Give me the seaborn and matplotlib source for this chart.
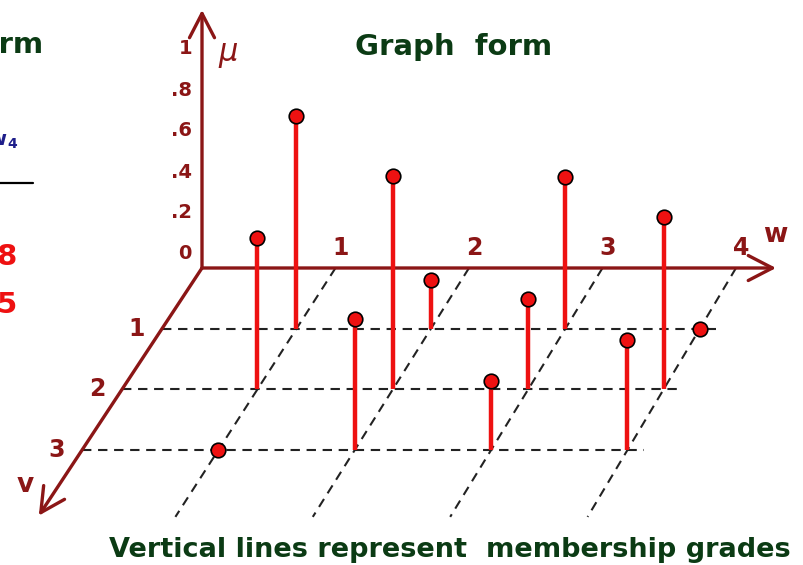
import numpy as np
import pandas as pd
import matplotlib
matplotlib.use("Agg")
import matplotlib.pyplot as plt
import seaborn as sns

# ---- data ----
w_labels = ["1", "2", "3", "4"]
v_labels = ["1", "2", "3"]
mu_ticks = [0.0, 0.2, 0.4, 0.6, 0.8, 1.0]
mu_tick_labels = ["0", ".2", ".4", ".6", ".8", "1"]
grades_v1 = [1.0, 0.2, 0.7, 0.0]
grades_v2 = [0.7, 1.0, 0.4, 0.8]
grades_v3 = [0.0, 0.6, 0.3, 0.5]
title = "Graph  form"
footer = "Vertical lines represent  membership grades"

sns.set_theme(style="white")
plt.rcParams["font.family"] = ["DejaVu Sans"]

MAROON = "#8B1616"
RED = "#EE1111"
GREEN = "#0B3B14"
BLUE = "#1E1E8A"

# oblique projection (pixel space of the figure)
OX, OY = 202.0, 268.0
WU = 133.5            # px per w unit
VX, VY = -40.0, 60.7  # px per v unit
VK = 0.95             # slight drift of the slant with w
MU = 205.0            # px per membership unit
LIFT = 8.0            # stems start slightly raised above the plane


def proj(w, v, mu=0.0):
    w = np.asarray(w, float)
    v = np.asarray(v, float)
    mu = np.asarray(mu, float)
    x = OX + WU * w + (VX + VK * w) * v
    y = OY + VY * v - np.where(mu > 0, LIFT + MU * mu, 0.0)
    return x, y


rows = [grades_v1, grades_v2, grades_v3]
records = []
for vi, row in enumerate(rows, start=1):
    for wi, g in enumerate(row, start=1):
        records.append({"w": wi, "v": vi, "mu": g})
df = pd.DataFrame(records)
df["bx"], df["by"] = proj(df["w"], df["v"])
df["tx"], df["ty"] = proj(df["w"], df["v"], df["mu"])

fig = plt.figure(figsize=(8.04, 5.65), dpi=100)
ax = fig.add_axes([0, 0, 1, 1])

# grid: slanted dashed lines for each w
for i, lab in enumerate(w_labels, start=1):
    x, y = proj([i, i], [0, 4.1])
    ax.plot(x, y, color="#222222", lw=1.5, ls=(0, (4.5, 3.2)), zorder=1)
# horizontal dashed lines for each v
for j, lab in enumerate(v_labels, start=1):
    x, y = proj([0, 4.12], [j, j])
    ax.plot(x, y, color="#222222", lw=1.5, ls=(0, (4.5, 3.2)), zorder=1)

# axes with arrows
arrow_kw = dict(arrowstyle="->,head_length=1.45,head_width=0.75", color=MAROON,
                lw=2.4, shrinkA=0, shrinkB=0)
x0, y0 = proj(0, 0)
tx, ty = proj(0, 0, 1.22)
ax.annotate("", xy=(float(tx), float(ty)), xytext=(float(x0), float(y0)),
            arrowprops=arrow_kw, zorder=3)
tx, ty = proj(4.3, 0)
ax.annotate("", xy=(float(tx), float(ty)), xytext=(float(x0), float(y0)),
            arrowprops=arrow_kw, zorder=3)
tx, ty = proj(0, 4.08)
ax.annotate("", xy=(float(tx), float(ty)), xytext=(float(x0), float(y0)),
            arrowprops=arrow_kw, zorder=3)

# tick labels
for m, lab in zip(mu_ticks, mu_tick_labels):
    x, y = proj(0, 0, m if m > 0 else 1e-9)
    ax.text(x - 10, y - 6, lab, ha="right", va="center", color=MAROON,
            fontsize=14, fontweight="bold")
for i, lab in enumerate(w_labels, start=1):
    x, y = proj(i, 0)
    ax.text(x + 5, y - 20, lab, ha="center", va="center", color=MAROON,
            fontsize=17, fontweight="bold")
for j, lab in enumerate(v_labels, start=1):
    x, y = proj(0, j)
    ax.text(x - 25, y, lab, ha="center", va="center", color=MAROON,
            fontsize=17, fontweight="bold")

ax.text(228, 56, r"$\mu$", ha="center", va="center", color=MAROON, fontsize=22)
ax.text(775, 242, "w", ha="center", va="baseline", color=MAROON, fontsize=19,
        fontweight="bold")
ax.text(25, 492, "v", ha="center", va="baseline", color=MAROON, fontsize=19,
        fontweight="bold")

# stems and dots
ax.vlines(df["bx"], df["by"], df["ty"], color=RED, lw=3.2, zorder=4)
sns.scatterplot(data=df, x="tx", y="ty", ax=ax, s=110, color=RED,
                edgecolor="black", linewidth=1.2, zorder=5, legend=False)

# titles
ax.text(454, 55, title, ha="center", va="baseline", color=GREEN, fontsize=21,
        fontweight="bold")
ax.text(450, 557, footer, ha="center", va="baseline", color=GREEN, fontsize=19.5,
        fontweight="bold")

# cropped-off neighbouring panel (left edge)
ax.text(43, 53, "Matrix form", ha="right", va="baseline", color=GREEN,
        fontsize=21, fontweight="bold")
ax.text(6, 145, "w", ha="right", va="baseline", color=BLUE, fontsize=14,
        fontweight="bold")
ax.text(7, 148, "4", ha="left", va="baseline", color=BLUE, fontsize=10,
        fontweight="bold")
ax.plot([0, 33], [183, 183], color="black", lw=1.6)
ax.text(17, 265, ".8", ha="right", va="baseline", color=RED, fontsize=21,
        fontweight="bold")
ax.text(17, 313, ".5", ha="right", va="baseline", color=RED, fontsize=21,
        fontweight="bold")

ax.set_xlim(0, 804)
ax.set_ylim(565, 0)
ax.axis("off")

fig.savefig("out.png", dpi=100)
